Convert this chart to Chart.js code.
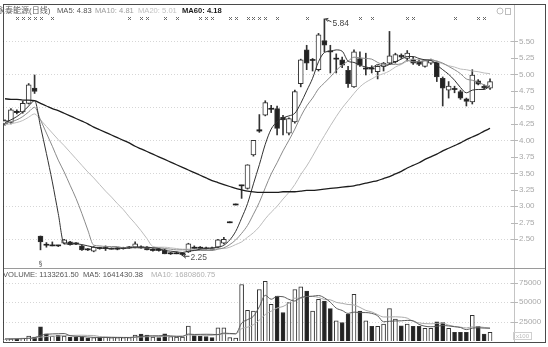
<!DOCTYPE html>
<html><head><meta charset="utf-8">
<script src="https://cdn.jsdelivr.net/npm/chart.js@4.4.1/dist/chart.umd.min.js"></script>
<style>
html,body{margin:0;padding:0;background:#fff;}
#wrap{position:relative;width:548px;height:347px;overflow:hidden;font-family:"Liberation Sans","Noto Sans CJK SC",Arial,sans-serif;}
canvas{position:absolute;left:0;}
#cp{top:0;}
#cv{top:268px;}
.hdr{position:absolute;font-size:7.6px;white-space:nowrap;line-height:10px;}
.ln{position:absolute;}
</style></head><body>
<div id="wrap">
<div class="ln" style="left:3px;top:4px;width:541px;height:337px;border:1px solid #4a4a4a;"></div>
<div class="ln" style="left:514px;top:5px;width:1px;height:337px;background:#c4c4c4;"></div>
<div class="ln" style="left:4px;top:268px;width:541px;height:1px;background:#9a9a9a;"></div>
<canvas id="cp" width="548" height="268"></canvas>
<canvas id="cv" width="548" height="79"></canvas>
<div class="hdr" id="h0" style="left:-3px;top:6px;color:#5a5a5a;font-size:8px">永泰能源(日线)</div>
<div class="hdr" id="h1" style="left:57px;top:6px;color:#555"></div>
<div class="hdr" id="h2" style="left:95px;top:6px;color:#9c9c9c"></div>
<div class="hdr" id="h3" style="left:138px;top:6px;color:#c2c2c2"></div>
<div class="hdr" id="h4" style="left:182px;top:6px;color:#1a1a1a;font-weight:bold"></div>
<div class="hdr" id="v0" style="left:3px;top:270px;color:#555"></div>
<div class="hdr" id="v1" style="left:83px;top:270px;color:#555"></div>
<div class="hdr" id="v2" style="left:151px;top:270px;color:#b0b0b0"></div>
</div>
<script>
// ---- data ----
const open  = [4.25,4.27,4.44,4.43,4.56,4.79,2.55,2.42,2.40,2.41,2.44,2.46,2.44,2.40,2.35,2.32,2.37,2.36,2.35,2.35,2.36,2.37,2.38,2.38,2.38,2.33,2.35,2.34,2.28,2.28,2.27,2.31,2.38,2.38,2.37,2.37,2.38,2.44,2.75,3.02,3.31,3.27,3.78,4.14,4.38,4.47,4.48,4.35,4.11,4.28,4.86,5.37,5.21,5.07,5.51,5.35,5.23,5.22,5.06,4.81,5.24,5.08,5.09,5.04,5.12,5.17,5.19,5.29,5.24,5.23,5.20,5.12,5.17,5.19,4.94,4.76,4.78,4.74,4.63,4.58,4.90,4.82,4.79];
const high  = [4.31,4.48,4.46,4.59,4.86,4.99,2.55,2.45,2.46,2.41,2.50,2.47,2.45,2.41,2.36,2.39,2.38,2.40,2.37,2.37,2.38,2.39,2.46,2.40,2.39,2.36,2.36,2.35,2.30,2.31,2.30,2.44,2.40,2.39,2.38,2.38,2.50,2.53,2.75,3.02,3.32,3.63,4.00,4.39,4.60,4.53,4.52,4.38,4.34,4.76,5.23,5.44,5.24,5.62,5.84,5.44,5.31,5.26,5.12,5.37,5.34,5.32,5.13,5.13,5.18,5.65,5.32,5.31,5.36,5.26,5.22,5.22,5.23,5.20,4.96,4.89,4.82,4.76,4.64,5.07,4.92,4.84,4.93];
const low   = [4.23,4.25,4.40,4.41,4.55,4.71,2.34,2.38,2.40,2.39,2.43,2.41,2.42,2.33,2.33,2.31,2.35,2.33,2.35,2.34,2.35,2.36,2.37,2.36,2.34,2.32,2.32,2.28,2.27,2.28,2.25,2.30,2.35,2.35,2.34,2.33,2.37,2.43,2.75,3.02,3.12,3.26,3.76,4.12,4.37,4.42,4.08,4.08,4.08,4.26,4.81,5.07,5.05,5.05,5.34,5.02,5.02,5.10,4.80,4.80,5.12,4.99,5.02,4.93,5.05,5.15,5.17,5.24,5.20,5.15,5.13,5.11,5.15,4.89,4.52,4.64,4.72,4.62,4.52,4.55,4.84,4.78,4.77];
const close = [4.30,4.46,4.42,4.56,4.84,4.74,2.46,2.41,2.41,2.40,2.49,2.42,2.43,2.34,2.34,2.38,2.36,2.37,2.36,2.36,2.37,2.38,2.43,2.37,2.34,2.35,2.33,2.28,2.29,2.29,2.29,2.43,2.36,2.36,2.35,2.34,2.49,2.50,2.75,3.02,3.32,3.63,4.00,4.16,4.57,4.48,4.18,4.31,4.33,4.74,5.22,5.17,5.22,5.60,5.44,5.34,5.24,5.14,4.86,5.34,5.14,5.09,5.08,5.12,5.17,5.28,5.30,5.26,5.32,5.17,5.15,5.21,5.22,4.96,4.79,4.82,4.77,4.64,4.59,4.99,4.85,4.79,4.89];
const ma5   = [4.27,4.31,4.36,4.43,4.52,4.60,4.21,3.80,3.37,2.89,2.43,2.43,2.43,2.42,2.40,2.38,2.37,2.36,2.36,2.37,2.36,2.37,2.38,2.38,2.38,2.37,2.36,2.33,2.32,2.31,2.30,2.32,2.33,2.35,2.36,2.37,2.38,2.41,2.49,2.62,2.82,3.04,3.34,3.63,3.94,4.17,4.28,4.34,4.37,4.41,4.56,4.75,4.94,5.19,5.33,5.35,5.37,5.35,5.20,5.18,5.14,5.11,5.10,5.15,5.12,5.15,5.19,5.23,5.27,5.27,5.24,5.22,5.21,5.14,5.07,5.00,4.91,4.80,4.72,4.76,4.77,4.77,4.83];
const ma10  = [4.26,4.28,4.31,4.36,4.43,4.50,4.31,4.11,3.91,3.70,3.52,3.32,3.12,2.89,2.64,2.41,2.40,2.39,2.39,2.39,2.37,2.37,2.37,2.37,2.37,2.37,2.37,2.36,2.35,2.34,2.34,2.34,2.33,2.33,2.33,2.33,2.35,2.37,2.42,2.49,2.59,2.71,2.88,3.06,3.28,3.49,3.66,3.84,4.00,4.17,4.36,4.52,4.64,4.78,4.87,4.96,5.06,5.14,5.20,5.26,5.25,5.24,5.23,5.18,5.15,5.15,5.15,5.16,5.21,5.19,5.19,5.21,5.22,5.20,5.17,5.12,5.07,5.01,4.93,4.91,4.88,4.84,4.81];
const ma20  = [4.24,4.25,4.27,4.30,4.35,4.40,4.31,4.21,4.11,4.01,3.92,3.82,3.72,3.62,3.52,3.43,3.33,3.23,3.14,3.04,2.95,2.84,2.74,2.63,2.51,2.39,2.38,2.38,2.37,2.36,2.35,2.35,2.35,2.35,2.35,2.35,2.36,2.36,2.38,2.42,2.46,2.53,2.60,2.69,2.81,2.91,3.00,3.11,3.21,3.33,3.48,3.61,3.76,3.92,4.07,4.22,4.36,4.49,4.60,4.71,4.81,4.88,4.93,4.98,5.01,5.05,5.11,5.15,5.20,5.23,5.22,5.22,5.22,5.19,5.16,5.13,5.11,5.08,5.07,5.05,5.04,5.02,5.01];
const ma60  = [4.63,4.62,4.62,4.61,4.61,4.60,4.56,4.52,4.48,4.45,4.41,4.37,4.33,4.29,4.25,4.20,4.16,4.12,4.08,4.04,4.00,3.96,3.91,3.87,3.83,3.79,3.75,3.71,3.67,3.63,3.59,3.55,3.51,3.47,3.43,3.39,3.36,3.33,3.30,3.27,3.25,3.23,3.22,3.21,3.21,3.21,3.21,3.22,3.22,3.22,3.23,3.24,3.24,3.25,3.26,3.27,3.28,3.29,3.30,3.31,3.33,3.35,3.37,3.39,3.42,3.45,3.49,3.53,3.58,3.62,3.66,3.71,3.75,3.79,3.84,3.88,3.92,3.96,4.01,4.05,4.09,4.14,4.18];
const volume = [1500,2800,3000,3800,6400,5200,18400,9400,6400,7300,6400,5100,5100,5100,3800,4400,4400,5100,4400,4400,4400,4400,7700,8800,7700,5100,4400,9400,5800,5100,5100,19200,7000,6400,5800,4400,17100,17100,4400,3800,72800,39600,38700,66400,77000,47300,57900,36700,49400,66400,69900,64300,38700,53700,51500,41800,25900,23900,34500,60100,38700,25900,18800,18800,21700,41800,28100,19600,21700,18800,18800,16200,16200,24700,23900,16200,11100,11100,11100,33200,18800,8900,11332.615];
const volMa5 = [2500,2600,2700,3000,3500,4240,7360,8640,9160,9340,9580,6920,6060,5800,5100,4700,4560,4560,4420,4540,4540,4540,5060,5940,6600,6740,6740,7080,6480,5960,5960,8920,8440,8560,8700,8560,8140,10160,9760,9360,23040,27540,31860,44260,58900,53800,57460,57060,53660,51540,56060,57340,57740,58600,55620,50000,42320,39360,35520,37240,36620,36620,35600,32460,24780,25400,25840,26000,26580,26000,21400,19020,18340,18940,19960,19440,18420,17400,14680,16540,17060,16620,16414.3038];
const volMa10 = [3000,3000,3100,3200,3400,3800,5000,5800,6300,6420,6910,7140,7350,7480,7220,7140,5740,5310,5110,4820,4620,4550,4810,5180,5570,5640,5640,6070,6210,6280,6350,7830,7760,7520,7330,7260,8530,9300,9160,9030,15800,17840,21010,27010,34130,38420,42500,44460,48960,55220,54930,57400,57400,56130,53580,53030,49830,48550,47060,46430,43310,39470,37480,33990,31010,31010,31230,30800,29520,25390,23400,22430,22170,22760,22980,20420,18720,17870,16810,18250,18250,17520,16808.6075];
const signals = [2,3,4,5,6,8,21,23,24,27,29,33,34,35,38,39,41,42,43,44,46,51,60,62,68,69,76,80,81];
const exRightIndex = 6;
const priceTicks = [2.50,2.75,3.00,3.25,3.50,3.75,4.00,4.25,4.50,4.75,5.00,5.25,5.50];
const volTicks = [25000,50000,75000];
const stockName = '永泰能源(日线)';

// ---- headers ----
const last = a => a[a.length-1];
document.getElementById('h1').textContent = 'MA5: ' + last(ma5).toFixed(2);
document.getElementById('h2').textContent = 'MA10: ' + last(ma10).toFixed(2);
document.getElementById('h3').textContent = 'MA20: ' + last(ma20).toFixed(2);
document.getElementById('h4').textContent = 'MA60: ' + last(ma60).toFixed(2);
document.getElementById('v0').textContent = 'VOLUME: ' + (last(volume)*100).toFixed(2);
document.getElementById('v1').textContent = 'MA5: ' + (last(volMa5)*100).toFixed(2);
document.getElementById('v2').textContent = 'MA10: ' + (last(volMa10)*100).toFixed(2);
document.getElementById('h0').textContent = stockName;

Chart.defaults.font.family = '"Liberation Sans", Arial, sans-serif';
Chart.defaults.animation = false;

const idx = close.map((_, i) => i);
const isUp = idx.map(i => close[i] >= open[i]);
const bigBody = idx.map(i => Math.abs(close[i] - open[i]) > 0.025);
const xMin = -0.34, xMax = 86.22;
const xAxis = {type:'linear', min:xMin, max:xMax, display:false, offset:false, grid:{offset:false}};

const deco = {
  id:'deco',
  beforeDatasetsDraw(chart, args, opts){
    const {ctx, chartArea:a, scales:{y}} = chart;
    ctx.save();
    ctx.lineWidth = 1;
    ctx.strokeStyle = 'rgba(0,0,0,0.16)';
    ctx.setLineDash([1,2]);
    y.ticks.forEach(t => {
      if (opts.halfOnly && Math.abs(t.value*2 - Math.round(t.value*2)) > 1e-6) return;
      const py = Math.round(y.getPixelForValue(t.value)) + 0.5;
      ctx.beginPath(); ctx.moveTo(a.left, py); ctx.lineTo(a.right, py); ctx.stroke();
    });
    ctx.setLineDash([]);
    ctx.strokeStyle = '#b8b8b8';
    y.ticks.forEach(t => {
      const py = Math.round(y.getPixelForValue(t.value)) + 0.5;
      ctx.beginPath(); ctx.moveTo(a.right-4, py); ctx.lineTo(a.right+3, py); ctx.stroke();
    });
    ctx.restore();
  }
};

const priceMarks = {
  id:'priceMarks',
  afterDatasetsDraw(chart){
    const {ctx, scales:{x,y}} = chart;
    ctx.save();
    ctx.strokeStyle = '#6a6a6a'; ctx.lineWidth = 1;
    signals.forEach(i => {
      const px = Math.round(x.getPixelForValue(i)) + 0.5, py = 18.5;
      ctx.beginPath();
      ctx.moveTo(px-1.5, py-1.5); ctx.lineTo(px+1.5, py+1.5);
      ctx.moveTo(px+1.5, py-1.5); ctx.lineTo(px-1.5, py+1.5);
      ctx.stroke();
    });
    const hi = high.indexOf(Math.max(...high));
    const lo = low.indexOf(Math.min(...low));
    ctx.strokeStyle = '#444'; ctx.fillStyle = '#444';
    ctx.font = '8.5px "Liberation Sans", Arial, sans-serif';
    ctx.textBaseline = 'middle'; ctx.textAlign = 'left';
    const hx = x.getPixelForValue(hi), hy = y.getPixelForValue(high[hi]);
    ctx.beginPath(); ctx.moveTo(hx+1, hy); ctx.lineTo(hx+7, hy+3); ctx.stroke();
    ctx.beginPath(); ctx.moveTo(hx+1, hy); ctx.lineTo(hx+3.5, hy+2.8); ctx.moveTo(hx+1, hy); ctx.lineTo(hx+4, hy-0.5); ctx.stroke();
    ctx.fillText(high[hi].toFixed(2), hx+8, hy+5);
    const lx = x.getPixelForValue(lo), ly = y.getPixelForValue(low[lo]);
    ctx.beginPath(); ctx.moveTo(lx+1, ly+0.5); ctx.lineTo(lx+7, ly+0.5); ctx.stroke();
    ctx.beginPath(); ctx.moveTo(lx+1, ly+0.5); ctx.lineTo(lx+3.5, ly-1.5); ctx.moveTo(lx+1, ly+0.5); ctx.lineTo(lx+3.5, ly+2.5); ctx.stroke();
    ctx.fillStyle = '#555';
    ctx.fillText(low[lo].toFixed(2), lx+8, ly+1.5);
    ctx.font = '7px "DejaVu Sans", sans-serif'; ctx.textAlign = 'center'; ctx.fillStyle = '#555';
    ctx.fillText('§', x.getPixelForValue(exRightIndex), 264);
    ctx.strokeStyle = '#bdbdbd';
    ctx.beginPath(); ctx.arc(500, 11, 3, 0, Math.PI*2); ctx.stroke();
    ctx.strokeRect(505.5, 8.5, 5, 6);
    ctx.restore();
  }
};

const volMarks = {
  id:'volMarks',
  afterDraw(chart){
    const {ctx, chartArea:a} = chart;
    ctx.save();
    ctx.strokeStyle = '#cfcfcf'; ctx.lineWidth = 1;
    ctx.strokeRect(a.right-1.5, a.bottom-8.5, 18, 7);
    ctx.fillStyle = '#bbb'; ctx.font = '6px "Liberation Sans", Arial, sans-serif';
    ctx.textAlign = 'center'; ctx.textBaseline = 'middle';
    ctx.fillText('x100', a.right+7.5, a.bottom-4.8);
    ctx.restore();
  }
};

function lineDs(arr, color, width){
  return {type:'line', data: idx.map(i => ({x:i, y:arr[i]})), borderColor:color, borderWidth:width,
    pointRadius:0, cubicInterpolationMode:'monotone', order:0};
}
function yAxis(min, max, ticks, fmt){
  return {position:'right', min, max,
    afterFit(s){ s.width = 32; s.paddingTop = 0; s.paddingBottom = 0; },
    afterBuildTicks(s){ s.ticks = ticks.map(v => ({value:v})); },
    ticks:{callback:fmt, color:'#a9a9a9', font:{size:8}, padding:4},
    grid:{display:false, drawTicks:false}, border:{display:false}};
}

new Chart(document.getElementById('cp'), {
  type:'bar',
  data:{datasets:[
    lineDs(ma60, '#1c1c1c', 1.3),
    lineDs(ma5, '#333333', 1),
    lineDs(ma10, '#8a8a8a', 1),
    lineDs(ma20, '#bcbcbc', 1),
    {label:'body', data: idx.map(i => ({x:i, y:[open[i], close[i]]})),
      backgroundColor: idx.map(i => (isUp[i] && bigBody[i]) ? '#ffffff' : '#222222'),
      borderColor:'#333', borderWidth: idx.map(i => bigBody[i] ? 1 : 0), borderSkipped:false,
      barThickness:5, minBarLength:1, grouped:false, order:1},
    {label:'wick', data: idx.map(i => ({x:i, y:[low[i], high[i]]})),
      backgroundColor:'#333', barThickness:1, minBarLength:1, grouped:false, order:2}
  ]},
  options:{
    responsive:false, animation:false,
    layout:{padding:{left:3, right:1, top:8, bottom:1}},
    plugins:{legend:{display:false}, tooltip:{enabled:false}, deco:{halfOnly:true}},
    scales:{ x:xAxis, y:yAxis(2.08, 6.005, priceTicks, v => Number(v).toFixed(2)) }
  },
  plugins:[deco, priceMarks]
});

new Chart(document.getElementById('cv'), {
  type:'bar',
  data:{datasets:[
    lineDs(volMa5, '#5a5a5a', 1),
    lineDs(volMa10, '#ababab', 1),
    {label:'vol', data: idx.map(i => ({x:i, y:volume[i]})),
      backgroundColor: idx.map(i => isUp[i] ? '#ffffff' : '#222222'),
      borderColor:'#333', borderWidth:1, barThickness:4, grouped:false, order:1}
  ]},
  options:{
    responsive:false, animation:false,
    layout:{padding:{left:3, right:1, top:10, bottom:6}},
    plugins:{legend:{display:false}, tooltip:{enabled:false}, deco:{halfOnly:false}},
    scales:{ x:xAxis, y:yAxis(0, 81200, volTicks, v => String(v)) }
  },
  plugins:[deco, volMarks]
});
</script>
</body></html>
